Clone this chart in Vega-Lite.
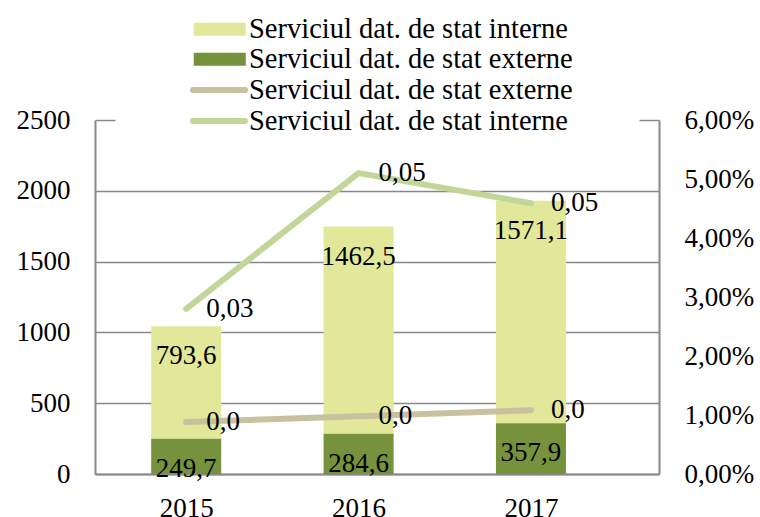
{
  "$schema": "https://vega.github.io/schema/vega-lite/v6.json",
  "width": 564,
  "height": 354,
  "autosize": {"type": "none"},
  "padding": {"left": 95, "top": 120, "right": 101, "bottom": 43},
  "config": {
    "font": "Liberation Serif",
    "locale": {"number": {"decimal": ",", "thousands": ".", "grouping": [3], "currency": ["", " lei"]}},
    "view": {"stroke": null},
    "axis": {
      "labelFont": "Liberation Serif",
      "labelFontSize": 27,
      "labelColor": "#000000",
      "domainColor": "#888888",
      "domainWidth": 2,
      "gridColor": "#888888",
      "gridWidth": 1.5,
      "title": null
    },
    "legend": {
      "labelFont": "Liberation Serif",
      "labelFontSize": 28.5,
      "labelColor": "#000000",
      "labelLimit": 600,
      "padding": 0,
      "title": null,
      "direction": "vertical"
    }
  },
  "datasets": {
    "bars": [
      {"year": 2015, "type": "Serviciul dat. de stat interne", "value": 793.6},
      {"year": 2015, "type": "Serviciul dat. de stat externe", "value": 249.7},
      {"year": 2016, "type": "Serviciul dat. de stat interne", "value": 1462.5},
      {"year": 2016, "type": "Serviciul dat. de stat externe", "value": 284.6},
      {"year": 2017, "type": "Serviciul dat. de stat interne", "value": 1571.1},
      {"year": 2017, "type": "Serviciul dat. de stat externe", "value": 357.9}
    ],
    "lines": [
      {"year": 2015, "series": "Serviciul dat. de stat externe", "pct": 0.0088},
      {"year": 2016, "series": "Serviciul dat. de stat externe", "pct": 0.0098},
      {"year": 2017, "series": "Serviciul dat. de stat externe", "pct": 0.0108},
      {"year": 2015, "series": "Serviciul dat. de stat interne", "pct": 0.028},
      {"year": 2016, "series": "Serviciul dat. de stat interne", "pct": 0.051},
      {"year": 2017, "series": "Serviciul dat. de stat interne", "pct": 0.0459}
    ]
  },
  "encoding": {
    "x": {
      "field": "year",
      "type": "quantitative",
      "scale": {"domain": [2014.5, 2017.7137], "nice": false, "zero": false},
      "axis": {"values": [2015, 2016, 2017], "format": "d", "grid": false, "ticks": false, "labelPadding": 21, "labelFlush": false}
    }
  },
  "layer": [
    {
      "data": {"name": "bars"},
      "encoding": {
        "y": {
          "field": "value",
          "type": "quantitative",
          "stack": "zero",
          "scale": {"domain": [0, 2500], "nice": false},
          "axis": {
            "orient": "left",
            "values": [0, 500, 1000, 1500, 2000, 2500],
            "format": "d",
            "tickSize": -20,
            "tickWidth": 1.5,
            "tickColor": {"condition": {"test": "datum.value >= 2499", "value": "#888888"}, "value": "transparent"},
            "gridColor": {"condition": {"test": "datum.value >= 2499", "value": "transparent"}, "value": "#888888"},
            "labelPadding": 45
          }
        },
        "order": {"field": "type", "sort": "ascending"}
      },
      "layer": [
        {
          "mark": {"type": "bar", "width": 70},
          "encoding": {
            "color": {
              "field": "type",
              "type": "nominal",
              "scale": {
                "domain": ["Serviciul dat. de stat interne", "Serviciul dat. de stat externe"],
                "range": ["#E1E899", "#77923C"]
              },
              "legend": {
                "orient": "none",
                "legendX": 98,
                "legendY": -105,
                "symbolType": "M-2,-0.5H2V0.5H-2Z",
                "symbolSize": 676,
                "symbolStrokeWidth": 0,
                "symbolOffset": 12.5,
                "labelOffset": 15,
                "rowPadding": 1
              }
            }
          }
        },
        {
          "mark": {"type": "text", "baseline": "top", "align": "center", "dy": 17, "fontSize": 27, "color": "#000000"},
          "encoding": {
            "detail": {"field": "type"},
            "text": {"field": "value", "type": "quantitative", "format": ".1f"}
          }
        }
      ]
    },
    {
      "data": {"name": "lines"},
      "encoding": {
        "y": {
          "field": "pct",
          "type": "quantitative",
          "scale": {"domain": [0, 0.06], "nice": false},
          "axis": {
            "orient": "right",
            "values": [0, 0.01, 0.02, 0.03, 0.04, 0.05, 0.06],
            "format": ".2%",
            "grid": false,
            "tickSize": -20,
            "tickWidth": 1.5,
            "tickColor": {"condition": {"test": "datum.value >= 0.0599", "value": "#888888"}, "value": "transparent"},
            "labelPadding": 45
          }
        }
      },
      "layer": [
        {
          "mark": {"type": "line", "strokeWidth": 6, "strokeCap": "round", "strokeJoin": "round"},
          "encoding": {
            "stroke": {
              "field": "series",
              "type": "nominal",
              "scale": {
                "domain": ["Serviciul dat. de stat externe", "Serviciul dat. de stat interne"],
                "range": ["#C8C19F", "#C2D69A"]
              },
              "legend": {
                "orient": "none",
                "legendX": 98,
                "legendY": -46,
                "symbolType": "M-2,0H2",
                "symbolSize": 676,
                "symbolStrokeWidth": 6,
                "symbolOffset": 10,
                "labelOffset": 14,
                "rowPadding": 0,
                "encode": {"symbols": {"update": {"strokeCap": {"value": "round"}}}}
              }
            }
          }
        },
        {
          "transform": [{"filter": "datum.series === 'Serviciul dat. de stat interne'"}],
          "mark": {"type": "text", "align": "left", "baseline": "middle", "dx": 20, "fontSize": 27, "color": "#000000"},
          "encoding": {"text": {"field": "pct", "type": "quantitative", "format": ".2f"}}
        },
        {
          "transform": [{"filter": "datum.series === 'Serviciul dat. de stat externe'"}],
          "mark": {"type": "text", "align": "left", "baseline": "middle", "dx": 20, "fontSize": 27, "color": "#000000"},
          "encoding": {"text": {"field": "pct", "type": "quantitative", "format": ".1f"}}
        }
      ]
    }
  ],
  "resolve": {"scale": {"y": "independent"}}
}
